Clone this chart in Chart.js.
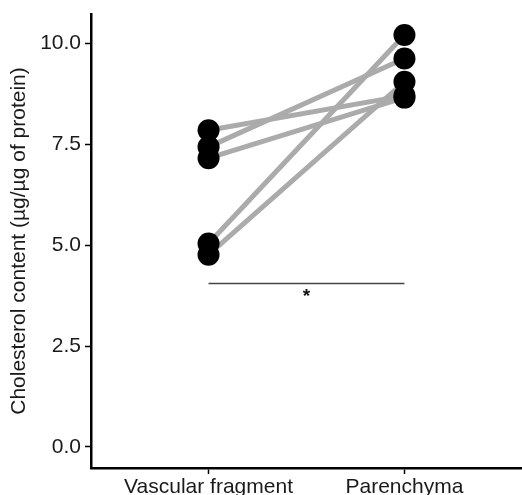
<!DOCTYPE html>
<html>
<head>
<meta charset="utf-8">
<script src="https://cdn.jsdelivr.net/npm/chart.js@4/dist/chart.umd.min.js"></script>
<style>
html,body{margin:0;padding:0;background:#fff;}
#wrap{width:522px;height:495px;}
</style>
</head>
<body>
<div id="wrap"><canvas id="c" width="522" height="495"></canvas></div>
<script>
const categories = ['Vascular fragment', 'Parenchyma'];
const vascular = [7.84, 7.43, 7.15, 5.04, 4.76];
const parenchyma = [8.70, 9.62, 8.65, 10.20, 9.04];
const yTicks = [0, 2.5, 5, 7.5, 10];
const sigLevel = 4.05;
const sigLabel = '*';
const yTitle = 'Cholesterol content (µg/µg of protein)';

const FONT = "'Liberation Sans', Arial, sans-serif";

const datasets = [];
vascular.forEach((v, i) => {
  datasets.push({
    type: 'line',
    data: [{x: 1, y: v}, {x: 2, y: parenchyma[i]}],
    borderColor: '#ababab',
    borderWidth: 5,
    pointRadius: 0,
    order: 2
  });
});
datasets.push({
  type: 'line',
  data: [{x: 1, y: sigLevel}, {x: 2, y: sigLevel}],
  borderColor: '#444',
  borderWidth: 1.5,
  pointRadius: 0,
  order: 2
});
const pts = [];
vascular.forEach(v => pts.push({x: 1, y: v}));
parenchyma.forEach(v => pts.push({x: 2, y: v}));
datasets.push({
  type: 'scatter',
  data: pts,
  backgroundColor: '#000',
  borderWidth: 0,
  pointRadius: 11,
  order: 1
});

const sigPlugin = {
  id: 'sig',
  afterDatasetsDraw(chart) {
    const {ctx, scales} = chart;
    const x = scales.x.getPixelForValue(1.5);
    const y = scales.y.getPixelForValue(sigLevel);
    ctx.save();
    ctx.fillStyle = '#111';
    ctx.font = 'bold 19px ' + FONT;
    ctx.textAlign = 'center';
    ctx.textBaseline = 'top';
    ctx.fillText(sigLabel, x, y + 4);
    ctx.restore();
  }
};

new Chart(document.getElementById('c'), {
  data: {datasets},
  options: {
    responsive: false,
    animation: false,
    layout: {autoPadding: false, padding: {top: 14, right: 0, left: 0, bottom: 0}},
    plugins: {legend: {display: false}, tooltip: {enabled: false}},
    scales: {
      x: {
        type: 'linear',
        min: 0.4, max: 2.6,
        afterBuildTicks: s => { s.ticks = [{value: 1}, {value: 2}]; },
        afterFit: s => { s.height = 27; s.paddingLeft = 0; s.paddingRight = 0; },
        border: {color: '#000', width: 2.5},
        grid: {display: true, drawOnChartArea: false, tickLength: 6, tickColor: '#000', tickWidth: 1.5},
        ticks: {
          callback: v => categories[v - 1],
          font: {family: FONT, size: 21},
          color: '#1a1a1a',
          padding: 1,
          maxRotation: 0,
          autoSkip: false
        }
      },
      y: {
        type: 'linear',
        min: -0.52, max: 10.72,
        afterBuildTicks: s => { s.ticks = yTicks.map(v => ({value: v})); },
        afterFit: s => { s.width = 91; s.paddingTop = 0; s.paddingBottom = 0; },
        border: {color: '#000', width: 2.5},
        grid: {display: true, drawOnChartArea: false, tickLength: 6, tickColor: '#000', tickWidth: 1.5},
        ticks: {
          callback: v => v.toFixed(1),
          font: {family: FONT, size: 21},
          color: '#1a1a1a',
          padding: 4
        },
        title: {
          display: true,
          text: yTitle,
          font: {family: FONT, size: 21},
          color: '#1a1a1a',
          padding: {top: 7, bottom: 0}
        }
      }
    }
  },
  plugins: [sigPlugin]
});
</script>
</body>
</html>
